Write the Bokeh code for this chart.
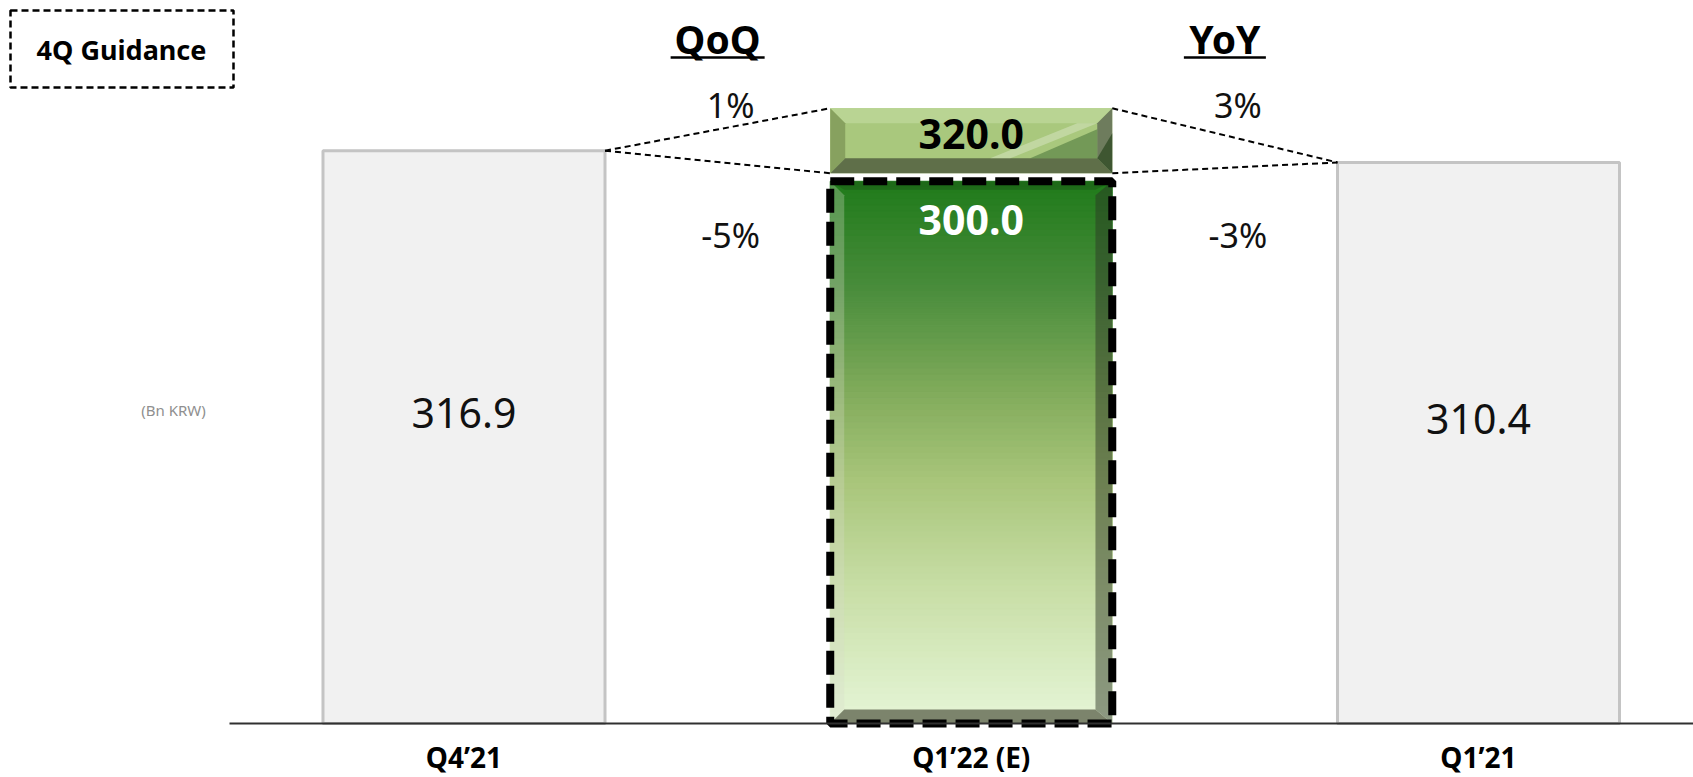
from bokeh.plotting import figure
from bokeh.models import Range1d
from bokeh.core.properties import value
from bokeh.embed import file_html
from bokeh.resources import INLINE

# ---------------- data ----------------
categories = ["Q4’21", "Q1’22 (E)", "Q1’21"]
actual_values = [316.9, None, 310.4]      # Q4'21 and Q1'21 actuals (Bn KRW)
guidance_low = 300.0                      # Q1'22 guidance low
guidance_high = 320.0                     # Q1'22 guidance high
unit_label = "(Bn KRW)"
box_label = "4Q Guidance"
qoq_title = "QoQ"
yoy_title = "YoY"

# ---------------- layout helpers ----------------
W, H = 1693, 777
PLOT_BOTTOM_PX = 54          # space under baseline for category labels
PXX = 507.25                 # px per category step
X0 = -463.5 / PXX
X1 = X0 + W / PXX
Y1 = 400.0
PPU = (H - PLOT_BOTTOM_PX) / Y1
Y0 = -PLOT_BOTTOM_PX / PPU

def dx(px):
    return px / PXX

def dy(px):
    return px / PPU

def px_x(px):
    return X0 + px / PXX

def px_y(py):
    return Y1 - py / PPU

BAR_W = 0.556
FONT = value("Noto Sans")

p = figure(width=W, height=H, x_range=Range1d(X0, X1), y_range=Range1d(Y0, Y1),
           output_backend="svg", toolbar_location=None, min_border=0,
           x_axis_type=None, y_axis_type=None)
p.grid.visible = False
p.outline_line_color = None
p.background_fill_color = "white"
p.border_fill_color = "white"

xs = list(range(len(categories)))

# ---------------- grey actual bars ----------------
gx = [x for x, v in zip(xs, actual_values) if v is not None]
gv = [v for v in actual_values if v is not None]
p.quad(left=[x - BAR_W / 2 for x in gx], right=[x + BAR_W / 2 for x in gx],
       bottom=0, top=gv, fill_color="#f1f1f1", line_color="#c4c4c4", line_width=3)

# ---------------- green guidance bar (gradient) ----------------
gxc = 1
L, R = gxc - BAR_W / 2, gxc + BAR_W / 2
stops = [(0.00, (230, 246, 216)), (0.25, (200, 222, 166)), (0.45, (168, 197, 122)),
         (0.60, (132, 173, 93)), (0.80, (74, 141, 60)), (1.00, (31, 122, 26))]

def grad(t):
    for (t0, c0), (t1, c1) in zip(stops[:-1], stops[1:]):
        if t <= t1:
            f = (t - t0) / (t1 - t0)
            return "#%02x%02x%02x" % tuple(int(round(a + (b - a) * f)) for a, b in zip(c0, c1))
    return "#%02x%02x%02x" % stops[-1][1]

N = 90
bb = [guidance_low * i / N for i in range(N)]
bt = [guidance_low * (i + 1) / N for i in range(N)]
cols = [grad((i + 0.5) / N) for i in range(N)]
p.quad(left=L, right=R, bottom=bb, top=bt, fill_color=cols, line_color=cols, line_width=1)

# bevels of the green bar
bx, by = dx(14), dy(14)
T = guidance_low
p.patch([L, L + bx, L + bx, L], [0, by, T - by, T], fill_color="#d6dccb", fill_alpha=0.30, line_color=None)
p.patch([R, R, R - bx * 1.2, R - bx * 1.2], [0, T, T - by, by], fill_color="#2c3426", fill_alpha=0.48, line_color=None)
p.patch([L, R, R - bx * 1.2, L + bx], [0, 0, by, by], fill_color="#7c846c", line_color=None)
p.patch([L, R, R - bx * 1.2, L + bx], [T, T, T - by * 0.6, T - by * 0.6], fill_color="#1b5a15", fill_alpha=0.5, line_color=None)

# dashed highlight frame around the guidance bar
p.quad(left=L, right=R, bottom=0, top=guidance_low, fill_color=None,
       line_color="black", line_width=8, line_dash="24 9")

# ---------------- guidance-high cap ----------------
CB = guidance_low + dy(8)
CT = CB + dy(65)
cbx, cby = dx(15), dy(15)
p.quad(left=L, right=R, bottom=CB, top=CT, fill_color="#a9c87d", line_color=None)
p.patch([L, R, R - cbx, L + cbx], [CT, CT, CT - cby, CT - cby], fill_color="#b9d493", line_color=None)
p.patch([L, L + cbx, L + cbx, L], [CB, CB + cby, CT - cby, CT], fill_color="#87a15f", line_color=None)
p.patch([L, R, R - cbx, L + cbx], [CB, CB, CB + cby, CB + cby], fill_color="#5f6f49", line_color=None)
p.patch([R, R, R - cbx, R - cbx], [CB, CT, CT - cby, CB + cby], fill_color="#6e7c5d", line_color=None)
# glossy sheen
p.patch([L + dx(200), R - cbx, R - cbx, L + dx(240)],
        [CB + cby, CT - cby - dy(6), CB + cby, CB + cby],
        fill_color="#3d6a31", fill_alpha=0.5, line_color=None)
p.patch([L + dx(160), R - cbx - dx(20), R - cbx, L + dx(180)],
        [CB + cby, CT - cby, CT - cby, CB + cby],
        fill_color="white", fill_alpha=0.28, line_color=None)
p.patch([R, R, R - cbx], [CB, CB + dy(40), CB + cby], fill_color="#2a4620", fill_alpha=0.7, line_color=None)

# ---------------- connector lines ----------------
base_q, base_y = actual_values[0], actual_values[2]
p.segment(x0=[0 + BAR_W / 2] * 2, y0=[base_q] * 2, x1=[L] * 2, y1=[CT, CB],
          line_color="black", line_width=2, line_dash="6 4")
p.segment(x0=[R] * 2, y0=[CT, CB], x1=[2 - BAR_W / 2] * 2, y1=[base_y] * 2,
          line_color="black", line_width=2, line_dash="6 4")

# ---------------- baseline ----------------
p.segment(x0=[px_x(229)], y0=[0], x1=[X1], y1=[0], line_color="#303030", line_width=2)

# ---------------- texts ----------------
p.text(x=gx, y=[v / 2 for v in gv], text=["%.1f" % v for v in gv], text_font=FONT,
       text_font_size=value("41px"), text_color="#111111", text_align="center",
       text_baseline="middle", y_offset=-24)
p.text(x=[gxc], y=[(CB + CT) / 2], text=["%.1f" % guidance_high], text_font=FONT,
       text_font_style="bold", text_font_size=value("41px"), text_color="black",
       text_align="center", text_baseline="middle", y_offset=-7)
p.text(x=[gxc], y=[guidance_low], text=["%.1f" % guidance_low], text_font=FONT,
       text_font_style="bold", text_font_size=value("41px"), text_color="white",
       text_align="center", text_baseline="middle", y_offset=39)

def pct(a, b):
    return "%d%%" % round((a / b - 1) * 100)

qoq_hi, qoq_lo = pct(guidance_high, base_q), pct(guidance_low, base_q)
yoy_hi, yoy_lo = pct(guidance_high, base_y), pct(guidance_low, base_y)
mid_q, mid_y = 0.5, 1.5
p.text(x=[mid_q, mid_y], y=[CT, CT], text=[qoq_hi, yoy_hi], text_font=FONT,
       text_font_size=value("34px"), text_color="#111111", text_align="center",
       text_baseline="middle", x_offset=13, y_offset=-3)
p.text(x=[mid_q, mid_y], y=[guidance_low] * 2, text=[qoq_lo, yoy_lo], text_font=FONT,
       text_font_size=value("34px"), text_color="#111111", text_align="center",
       text_baseline="middle", x_offset=13, y_offset=54)

# QoQ / YoY titles with underline
p.text(x=[mid_q, mid_y], y=[px_y(38)] * 2, text=[qoq_title, yoy_title], text_font=FONT,
       text_font_style="bold", text_font_size=value("39px"), text_color="black",
       text_align="center", text_baseline="middle")
p.segment(x0=[mid_q - dx(47), mid_y - dx(41)], y0=[px_y(57)] * 2,
          x1=[mid_q + dx(47), mid_y + dx(41)], y1=[px_y(57)] * 2,
          line_color="black", line_width=2.5)

# category labels
p.text(x=xs, y=[0] * 3, text=categories, text_font=FONT, text_font_style="bold",
       text_font_size=value("28px"), text_color="black", text_align="center",
       text_baseline="middle", y_offset=33)

# unit label
p.text(x=[px_x(173)], y=[px_y(409)], text=[unit_label], text_font=FONT,
       text_font_size=value("15px"), text_color="#8f8f8f", text_align="center",
       text_baseline="middle")

# "4Q Guidance" dashed box
p.quad(left=[px_x(10)], right=[px_x(233)], bottom=[px_y(87)], top=[px_y(10)],
       fill_color="white", line_color="black", line_width=2.5, line_dash="7 4")
p.text(x=[px_x(121)], y=[px_y(49)], text=[box_label], text_font=FONT, text_font_style="bold",
       text_font_size=value("27px"), text_color="black", text_align="center",
       text_baseline="middle")

open("out.html", "w").write(file_html(p, INLINE))
